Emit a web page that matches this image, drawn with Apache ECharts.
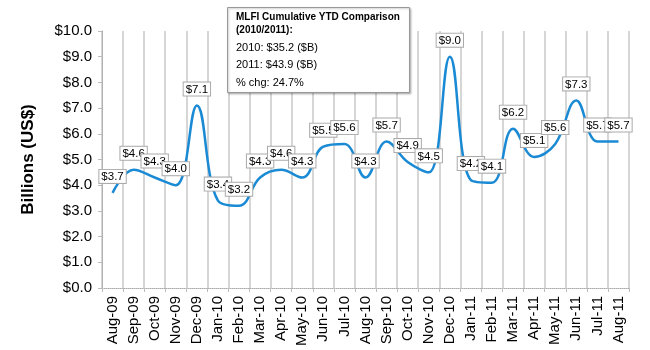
<!DOCTYPE html>
<html>
<head>
<meta charset="utf-8">
<script src="https://cdn.jsdelivr.net/npm/echarts@6/dist/echarts.min.js"></script>
<style>
  html, body { margin: 0; padding: 0; background: #fff; }
  #chart { width: 650px; height: 350px; }
</style>
</head>
<body>
<div id="chart"></div>
<script>
var months = ['Aug-09', 'Sep-09', 'Oct-09', 'Nov-09', 'Dec-09', 'Jan-10', 'Feb-10', 'Mar-10', 'Apr-10',
    'May-10', 'Jun-10', 'Jul-10', 'Aug-10', 'Sep-10', 'Oct-10', 'Nov-10', 'Dec-10', 'Jan-11', 'Feb-11',
    'Mar-11', 'Apr-11', 'May-11', 'Jun-11', 'Jul-11', 'Aug-11'];
var volumes = [3.7, 4.6, 4.3, 4.0, 7.1, 3.4, 3.2, 4.3, 4.6, 4.3, 5.5, 5.6, 4.3, 5.7, 4.9, 4.5, 9.0,
    4.2, 4.1, 6.2, 5.1, 5.6, 7.3, 5.7, 5.7];
var noteTitle = ['MLFI Cumulative YTD Comparison', '(2010/2011):'];
var noteLines = ['2010: $35.2 ($B)', '2011: $43.9 ($B)', '% chg: 24.7%'];

var font = '"Liberation Sans", Arial, sans-serif';
var chart = echarts.init(document.getElementById('chart'));

var option = {
    animation: false,
    textStyle: {fontFamily: font},
    grid: {left: 102, right: 21, top: 31, bottom: 62},
    xAxis: {
        type: 'category',
        data: months,
        boundaryGap: true,
        axisLine: {lineStyle: {color: '#aaa', type: 'dotted', width: 1}},
        axisTick: {show: true, length: 4, lineStyle: {color: '#bbb'}},
        axisLabel: {rotate: 90, fontSize: 15, color: '#000', margin: 8, fontFamily: font},
        splitLine: {show: true, lineStyle: {color: '#d6d6d6', width: 2}}
    },
    yAxis: {
        type: 'value',
        min: 0,
        max: 10,
        interval: 1,
        name: 'Billions (US$)',
        nameLocation: 'middle',
        nameRotate: 90,
        nameGap: 65,
        nameTextStyle: {fontSize: 17, fontWeight: 'bold', color: '#000', fontFamily: font},
        axisLine: {show: true, lineStyle: {color: '#aaa', type: 'dotted', width: 1}},
        axisTick: {show: true, length: 4, lineStyle: {color: '#bbb'}},
        axisLabel: {
            fontSize: 15, color: '#000', margin: 10, fontFamily: font,
            formatter: function (v) { return '$' + v.toFixed(1); }
        },
        splitLine: {show: false}
    },
    series: [{
        type: 'line',
        data: volumes,
        smooth: 0.4,
        symbol: 'circle',
        symbolSize: 2,
        itemStyle: {color: 'rgba(0,0,0,0)'},
        lineStyle: {color: '#1a8ad4', width: 2.5},
        label: {
            show: true,
            position: 'top',
            distance: 9,
            formatter: function (p) { return '$' + p.value.toFixed(1); },
            fontSize: 11.5,
            color: '#000',
            fontFamily: font,
            backgroundColor: '#fff',
            borderColor: '#aaa',
            borderWidth: 1,
            padding: [1, 2, 0, 2]
        }
    }],
    graphic: [{
        type: 'rect',
        left: 227, top: 7, z: 100,
        shape: {width: 182, height: 85},
        style: {fill: '#fff', stroke: '#999', lineWidth: 1,
            shadowBlur: 2, shadowOffsetX: 1, shadowOffsetY: 1, shadowColor: 'rgba(0,0,0,0.25)'}
    }, {
        type: 'text',
        left: 236, top: 11, z: 101,
        style: {text: noteTitle.join('\n'), font: 'bold 10px ' + font, fill: '#000', lineHeight: 13}
    }, {
        type: 'text',
        left: 236, top: 42, z: 101,
        style: {text: noteLines[0], font: '11px ' + font, fill: '#000'}
    }, {
        type: 'text',
        left: 236, top: 59, z: 101,
        style: {text: noteLines[1], font: '11px ' + font, fill: '#000'}
    }, {
        type: 'text',
        left: 236, top: 77, z: 101,
        style: {text: noteLines[2], font: '11px ' + font, fill: '#000'}
    }]
};
chart.setOption(option);
</script>
</body>
</html>
